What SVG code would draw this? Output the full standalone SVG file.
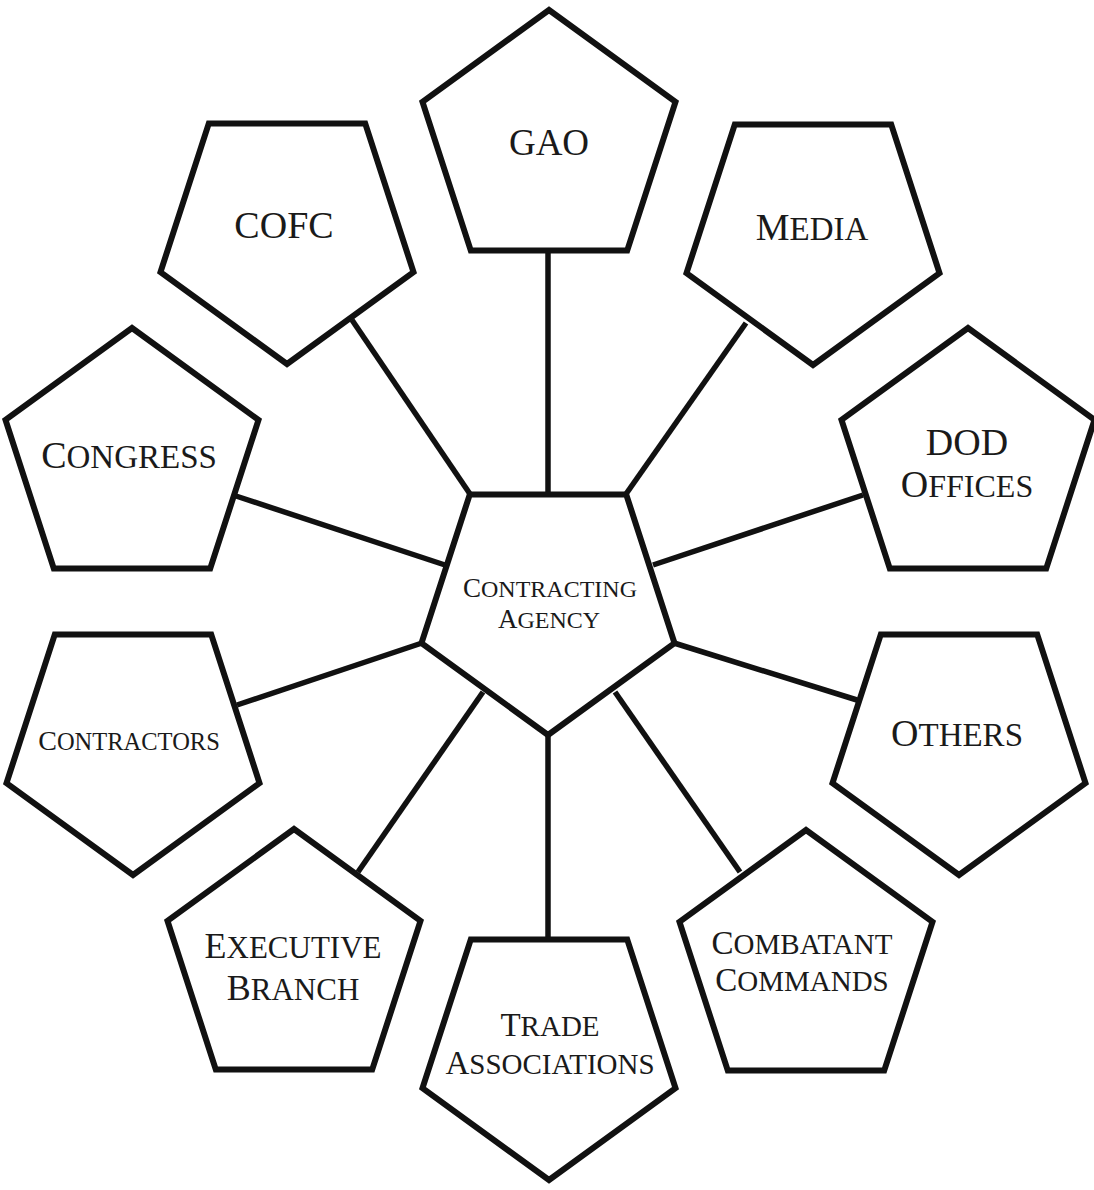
<svg xmlns="http://www.w3.org/2000/svg" xmlns:xlink="http://www.w3.org/1999/xlink" width="1094" height="1190" viewBox="0 0 1094 1190">
  <defs>
    <polygon id="pu" points="0,-133 126.5,-41.1 78.2,107.6 -78.2,107.6 -126.5,-41.1"/>
    <polygon id="pd" points="0,133 126.5,41.1 78.2,-107.6 -78.2,-107.6 -126.5,41.1"/>
    <style>
      .shape { fill: #ffffff; stroke: #111111; stroke-width: 6; stroke-linejoin: miter; }
      .conn line { stroke: #111111; stroke-width: 5.5; stroke-linecap: butt; }
      text { font-family: "Liberation Serif", "Times New Roman", serif; fill: #1a1a1a; text-anchor: middle; }
    </style>
  </defs>
  <rect width="1094" height="1190" fill="#ffffff"/>

  <g id="connectors" class="conn">
    <line x1="548" y1="250" x2="548" y2="495"/>
    <line x1="548" y1="734" x2="548" y2="940"/>
    <line x1="352" y1="320" x2="470" y2="494"/>
    <line x1="746" y1="323" x2="626" y2="494"/>
    <line x1="236" y1="496" x2="445" y2="565"/>
    <line x1="863" y1="495" x2="653" y2="565"/>
    <line x1="237" y1="705" x2="422" y2="643"/>
    <line x1="857" y1="700" x2="674" y2="643"/>
    <line x1="358" y1="872" x2="483" y2="692"/>
    <line x1="740" y1="872" x2="615" y2="692"/>
  </g>

  <g id="node-contracting-agency">
    <use xlink:href="#pd" href="#pd" class="shape" x="548" y="602"/>
    <text font-size="27"><tspan x="550" y="597">C<tspan font-size="24">ONTRACTING</tspan></tspan><tspan x="549" y="628">A<tspan font-size="24">GENCY</tspan></tspan></text>
  </g>

  <g id="node-gao">
    <use xlink:href="#pu" href="#pu" class="shape" x="549" y="143"/>
    <text x="549" y="155" font-size="37">GAO</text>
  </g>

  <g id="node-media">
    <use xlink:href="#pd" href="#pd" class="shape" x="813" y="232"/>
    <text x="812" y="240" font-size="38">M<tspan font-size="33">EDIA</tspan></text>
  </g>

  <g id="node-dod-offices">
    <use xlink:href="#pu" href="#pu" class="shape" x="968" y="461"/>
    <text font-size="38"><tspan x="967" y="455">DOD</tspan><tspan x="967" y="497">O<tspan font-size="32">FFICES</tspan></tspan></text>
  </g>

  <g id="node-others">
    <use xlink:href="#pd" href="#pd" class="shape" x="959" y="742"/>
    <text x="957" y="746" font-size="38">O<tspan font-size="33">THERS</tspan></text>
  </g>

  <g id="node-combatant-commands">
    <use xlink:href="#pu" href="#pu" class="shape" x="806" y="963"/>
    <text font-size="33"><tspan x="802" y="954">C<tspan font-size="29">OMBATANT</tspan></tspan><tspan x="802" y="991">C<tspan font-size="29">OMMANDS</tspan></tspan></text>
  </g>

  <g id="node-trade-associations">
    <use xlink:href="#pd" href="#pd" class="shape" x="549" y="1047"/>
    <text font-size="33"><tspan x="550" y="1036">T<tspan font-size="29">RADE</tspan></tspan><tspan x="550" y="1074">A<tspan font-size="29">SSOCIATIONS</tspan></tspan></text>
  </g>

  <g id="node-executive-branch">
    <use xlink:href="#pu" href="#pu" class="shape" x="294" y="962"/>
    <text font-size="36"><tspan x="293" y="958">E<tspan font-size="31">XECUTIVE</tspan></tspan><tspan x="293" y="1000">B<tspan font-size="31">RANCH</tspan></tspan></text>
  </g>

  <g id="node-contractors">
    <use xlink:href="#pd" href="#pd" class="shape" x="133" y="742"/>
    <text x="129" y="750" font-size="28">C<tspan font-size="24.5">ONTRACTORS</tspan></text>
  </g>

  <g id="node-congress">
    <use xlink:href="#pu" href="#pu" class="shape" x="132" y="461"/>
    <text x="129" y="468" font-size="38">C<tspan font-size="33">ONGRESS</tspan></text>
  </g>

  <g id="node-cofc">
    <use xlink:href="#pd" href="#pd" class="shape" x="287" y="231"/>
    <text x="284" y="238" font-size="38">COFC</text>
  </g>
</svg>
